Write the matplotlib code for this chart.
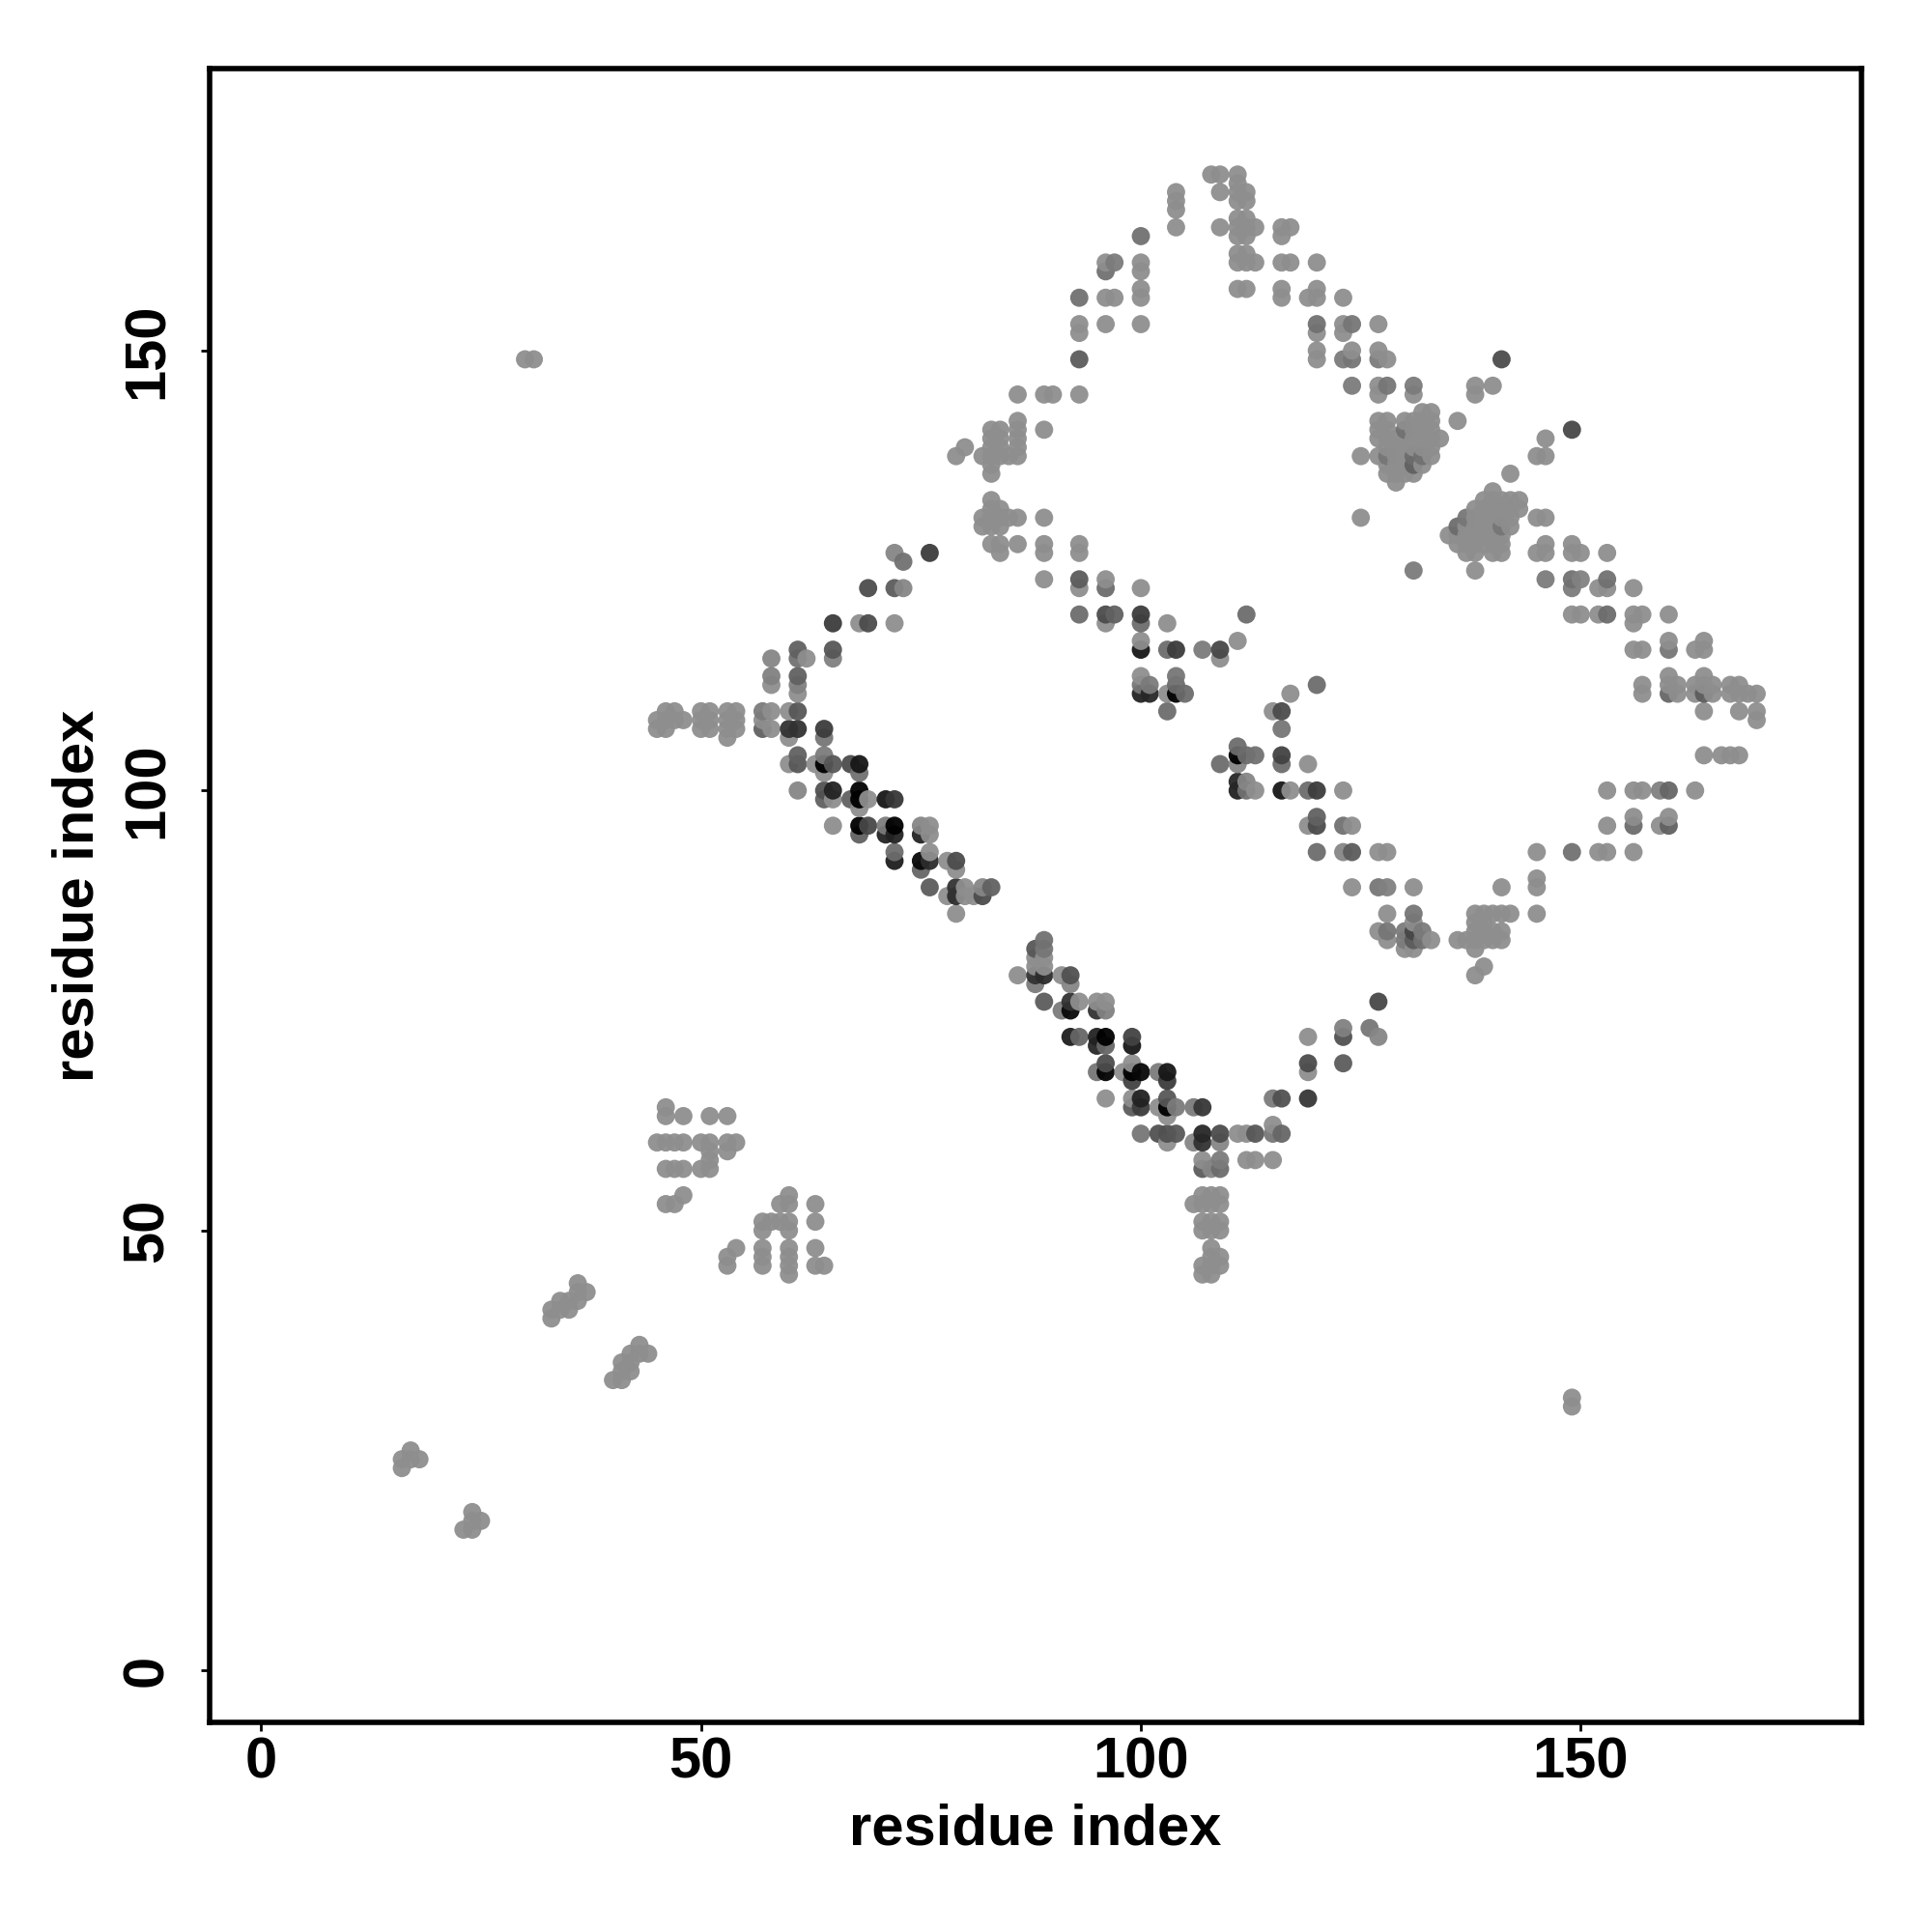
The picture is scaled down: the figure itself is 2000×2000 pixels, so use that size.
import numpy as np
import matplotlib
matplotlib.use("Agg")
import matplotlib.pyplot as plt

plt.rcParams['font.family'] = ['Liberation Sans', 'DejaVu Sans']

tick_values = [0, 50, 100, 150]
tick_labels = ['0', '50', '100', '150']
axis_label = 'residue index'
base_gray = 148

row_y = [170,169,168,167,166,165,164,163,161,160,159,157,156,153,152,150,149,146,145,143,142,141,140,139,138,137,136,135,134,133,132,131,130,129,128,127,126,125,124,123,120,119,117,116,115,113,112,111,109,108,107,106,105,104,103,102,101,100,99,98,97,96,95,93,92,91,90,89,88,86,85,84,83,82,81,80,79,78,76,75,73,72,71,69,68,67,65,64,63,62,61,60,59,58,57,54,53,51,50,48,47,46,45,44,43,42,41,40,37,36,35,34,33,31,30,25,24,23,18,17,16]
row_x = [
[108,109,111],[111],[104,109,111,112],[104,111,112],[104],[111,112],[104,109,111,112,113,116,117],[100,111,112,116],
[111,112],[96,97,100,111,112,113,116,117,120],[96,100],[100,111,112,116,120],[93,96,97,100,116,119,120,123],
[93,96,100,120,123,124,127],[93,120,123],[120,124,127],[30,31,93,120,123,124,127,128,141],[124,127,128,131,138,140],
[86,89,90,93,127,131,138],[132,133],[86,127,128,130,131,132,133,136],[83,84,86,89,127,128,130,131,132,133,149],
[83,84,86,127,128,129,130,131,132,133,134,146],[80,83,84,86,128,129,130,131,132,133],
[79,82,83,84,85,86,125,127,128,129,130,131,132,133,145,146],[83,128,129,130,131,132],[83,128,129,130,131,142],[129],[140],
[83,139,140,141,142,143],[83,84,138,139,140,141,142,143],[82,83,84,85,86,89,125,137,138,139,140,141,142,145,146],
[82,83,84,136,137,138,139,140,141,142],[135,136,137,138,139,140,141],[83,84,86,89,93,136,137,138,139,140,141,146,149],
[72,76,84,89,93,137,138,140,141,145,146,149,150,153],[73],[131,138],[89,93,96,146,149,150,153],[69,72,73,93,96,100,149,152,153,156],
[93,96,97,100,112,149,150,152,153,156,157,160],[65,68,69,72,96,100,103,156],[100,111,160,164],
[61,65,100,103,104,107,109,156,157,160,163,164],[58,61,62,65,109],[58,61,100,104,160,164],
[58,61,100,101,104,120,157,160,161,163,164,165,167,168],[61,100,101,103,104,105,117,157,160,161,163,164,165,167,168,169,170],
[46,47,50,51,53,54,57,58,60,61,103,115,116,164,168,170],[45,46,47,48,50,51,53,54,57,170],[45,46,50,51,53,54,57,58,60,61,64,116],
[53,60,64],[111],[61,64,111,112,113,116,164,166,167,168],[60,61,63,64,65,67,68,109,111,116,119],[64,68],[111,112],
[61,64,65,68,111,112,113,116,117,119,120,123,153,156,157,159,160,163],[64,65,67,68,69,71,72],[68],[120,156,160],
[65,68,69,71,72,75,76,119,120,123,124,153,156,159,160],[68,71,72,75,76],[72,76,120,123,124,127,128,145,149,152,153,156],
[72,75,76,78,79],[75,79],[145],[76,79,80,82,83,124,127,128,131,141,145],[78,79,80,81,82],[79,128,131,138,139,140,141,142,145],
[131,138,139],[127,128,130,131,132,138,139,140,141],[89,128,130,131,132,133,136,137,138,139,140,141],[88,89,130,131,138],
[88,89],[88,89,139],[86,88,89,91,92,138],[88,92],[89,92,93,95,96,127],[91,92,95,96],[123,126],[92,93,95,96,99,119,123,127],
[95,96,99],[96,99,119,123],[95,96,98,99,100,102,103,119],[99,103],[96,99,100,103,115,116,119],[46,99,100,102,103,104,106,107],
[46,48,51,53,103],[115],[100,102,103,104,107,109,111,112,113,115,116],[45,46,47,48,50,51,53,54,103,106,107,109],[51,53],
[51,107,109,112,113,115],[46,47,48,50,51,107,108,109],[48,60,107,108,109],[46,47,59,60,63,106,107,108,109],
[57,58,59,60,63,107,108,109],[57,60,107,108,109],[54,57,60,63,108],[53,57,60,108,109],[53,57,60,63,64,107,108,109],[60,107,108],
[36],[36,37],[34,35,36],[33,34,35],[33],[43],[42,43,44],[41,42],[41,42],[40,41],[149],[149],[17],[16,17,18],[16],[24],[24,25],[23,24]]

shaded_points = [
(72,127,140),(73,126,120),(76,127,70),(69,123,85),(72,123,100),(73,123,140),
(65,119,70),(69,119,85),(61,116,105),(61,115,120),(65,116,95),(65,115,135),(58,115,140),(58,113,135),(61,113,105),(61,112,135),
(57,109,130),(61,109,95),(57,107,105),(60,107,60),(61,107,60),(64,107,70),(64,106,125),(61,104,105),(61,103,95),(64,104,130),
(64,103,0),(65,103,95),(67,103,85),(68,103,35),(68,102,120),(61,100,140),(64,100,90),(65,100,45),(64,99,105),(67,99,105),
(68,100,15),(68,99,0),(71,99,35),(72,99,65),(68,96,10),(69,96,80),(68,95,105),(71,96,130),(72,96,0),(71,95,45),(72,95,45),
(75,96,140),(75,95,45),(72,93,115),(72,92,40),(75,92,20),(76,92,55),(75,91,110),(79,92,85),(76,89,100),(79,89,60),(79,88,55),
(82,88,85),(82,89,140),(83,89,105),
(89,83,120),(88,82,95),(89,82,125),(88,79,60),(89,79,55),(92,79,90),(88,78,130),(92,78,140),(89,76,100),(92,76,60),
(91,75,130),(92,75,20),(95,75,60),(96,75,135),(92,72,40),(93,72,110),(95,72,45),(96,72,0),(95,71,50),(96,71,110),(99,72,75),(99,71,35),
(96,69,85),(96,68,15),(95,68,125),(99,68,0),(100,68,20),(99,67,75),(102,68,130),(103,68,35),(103,67,70),(99,64,100),(100,65,45),
(100,64,70),(103,65,95),(103,64,0),(104,64,130),(106,64,130),(107,64,65),(100,61,125),(102,61,90),(103,61,90),(104,61,95),(106,60,140),
(107,61,50),(107,60,60),(109,61,85),(109,60,140),(113,61,95),(115,61,125),(116,61,110),(107,57,100),(108,57,140),(109,58,130),(109,57,115),
(115,65,130),(116,65,90),(119,65,65),(119,69,85),(123,73,135),(123,72,90),(123,69,100),(126,73,125),(127,72,140),(127,76,80),
(93,124,100),(96,123,115),(93,120,115),(96,120,85),(97,120,105),(100,120,70),(100,119,115),(112,120,115),(100,116,35),(103,116,115),
(104,116,70),(107,116,130),(109,116,80),(100,112,125),(101,112,130),(100,111,45),(101,111,50),(104,113,125),(104,112,115),(104,111,0),
(105,111,115),(103,109,115),(120,112,115),(116,109,85),(116,107,125),(111,105,115),(111,104,0),(112,104,115),(113,104,120),(116,104,75),
(116,103,115),(109,103,115),(111,103,140),(111,101,50),(112,101,140),(111,100,45),(112,100,120),(116,100,35),(119,100,115),(120,100,70),
(120,97,105),(120,96,85),(123,96,120),(120,93,115),(123,93,140),(124,93,100),(127,89,125),(128,89,135),(131,86,125),(128,84,125),(130,84,130),
(131,84,80),(132,84,130),(130,83,130),(131,83,100),(132,83,120),
(149,141,80),(141,149,85),(131,125,130),(124,146,130),(128,146,125),(131,146,130),(120,153,120),(124,153,125),(124,149,125),(123,149,130),
(127,149,130),(153,120,115),(160,100,110),(159,100,135),(160,96,105),(156,96,115),(149,93,120),(160,111,110),(164,111,100),(149,124,120),
(150,124,135),(153,124,120),(149,123,130),(146,124,130),(160,116,125),(93,149,100),(100,163,120),(97,160,130),(96,159,120),(93,156,120),
(131,138,115),(132,138,120),(131,137,105),(130,141,120),(128,138,125),(141,130,125),(136,130,115),(137,131,125)]

shade_by_point = {(x, y): g for x, y, g in shaded_points}
xs, ys, gs = [], [], []
for y, row in zip(row_y, row_x):
    for x in row:
        xs.append(x)
        ys.append(y)
        gs.append(shade_by_point.get((x, y), base_gray))
xs, ys, gs = np.array(xs), np.array(ys), np.array(gs, dtype=float)
order = np.lexsort((ys, xs))
xs, ys, gs = xs[order], ys[order], gs[order]

alpha = 0.95
c = np.clip((gs - (1 - alpha) * 255) / alpha, 0, 255) / 255
colors = np.column_stack([c, c, c, np.full_like(c, alpha)])

fig = plt.figure(figsize=(10, 10), dpi=200)
ax = fig.add_axes([217/2000, 1 - 1783/2000, (1927-217)/2000, (1783-71)/2000])
ax.scatter(xs, ys, s=46, c=colors, linewidths=0, zorder=3)
ax.set_xlim(-5.85, 181.91)
ax.set_ylim(-5.9, 182.04)
ax.set_xticks(tick_values)
ax.set_xticklabels(tick_labels, fontsize=21.5, fontweight='bold')
ax.set_yticks(tick_values)
ax.set_yticklabels(tick_labels, fontsize=21.5, fontweight='bold', rotation=90, va='center')
ax.tick_params(axis='x', length=3.2, width=1.0, pad=2)
ax.tick_params(axis='y', length=3.2, width=1.0, pad=10)
ax.set_xlabel(axis_label, fontsize=21.5, fontweight='bold')
ax.set_ylabel(axis_label, fontsize=21.5, fontweight='bold')
ax.xaxis.set_label_coords(0.5, (1783 - 1894) / 1712, transform=ax.transAxes)
ax.yaxis.set_label_coords((81 - 217) / 1710, 0.5, transform=ax.transAxes)
ax.xaxis.label.set_verticalalignment('center')
ax.yaxis.label.set_verticalalignment('center')
for s in ax.spines.values():
    s.set_linewidth(2.0)
fig.savefig('out.png', dpi=200)
